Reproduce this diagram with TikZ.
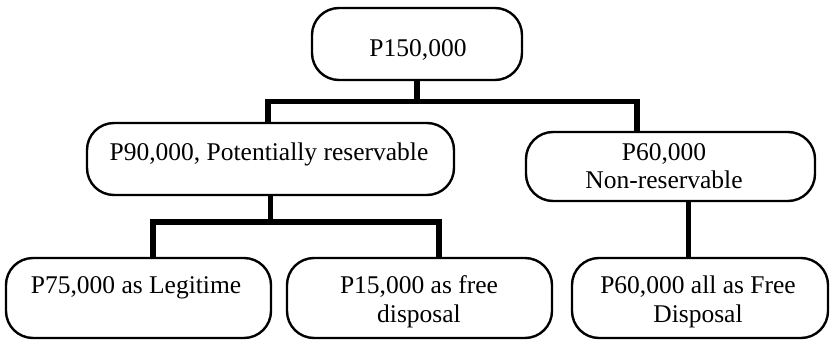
\documentclass[tikz,border=0pt]{standalone}
\usepackage{fontspec}
\setmainfont{Liberation Serif}
\begin{document}
\begin{tikzpicture}[x=1pt, y=-1pt,
  box/.style={draw, line width=2.4pt, rounded corners=27pt, inner sep=0pt},
  lbl/.style={inner sep=0pt, anchor=base, font=\fontsize{25.5}{29}\selectfont},
  conn/.style={draw, line width=5.4pt, line join=miter}]
\useasboundingbox (0,0) rectangle (830,340);

% boxes
\node[box, minimum width=210pt, minimum height=72pt] (top)   at (417,44)    {};
\node[box, minimum width=367pt, minimum height=72pt] (mid)   at (270.5,159) {};
\node[box, minimum width=289pt, minimum height=69pt] (right) at (670.5,166.5) {};
\node[box, minimum width=265pt, minimum height=80pt] (legit) at (138.5,298) {};
\node[box, minimum width=265pt, minimum height=80pt] (free)  at (419.5,298) {};
\node[box, minimum width=256pt, minimum height=80pt] (fd)    at (700,298)   {};

% texts
\node[lbl] (ttop)  at (418,56)    {P150,000};
\node[lbl] (tmid)  at (269,160)   {P90,000, Potentially reservable};
\node[lbl] (tr1)   at (664,160)   {P60,000};
\node[lbl] (tr2)   at (664,188)   {Non-reservable};
\node[lbl] (tl1)   at (136,293)   {P75,000 as Legitime};
\node[lbl] (tf1)   at (419,293)   {P15,000 as free};
\node[lbl] (tf2)   at (419,322)   {disposal};
\node[lbl] (tfd1)  at (698,293)   {P60,000 all as Free};
\node[lbl] (tfd2)  at (698,322)   {Disposal};

% junction points
\coordinate (j1) at (417,101.5);
\coordinate (j2) at (270.5,222);
\coordinate (ja) at ([xshift=-2.5pt]mid.north);
\coordinate (jb) at ([xshift=-33.5pt]right.north);
\coordinate (jc) at ([xshift=14.5pt]legit.north);
\coordinate (jd) at ([xshift=19.5pt]free.north);

% connectors
\draw[conn] (top.south) -- (j1);
\draw[conn] (ja) -- (ja |- j1) -- (jb |- j1) -- (jb);
\draw[conn] (mid.south) -- (j2);
\draw[conn] (jc) -- (jc |- j2) -- (jd |- j2) -- (jd);
\draw[conn] ([xshift=18pt]right.south) -- ([xshift=-11.5pt]fd.north);
\end{tikzpicture}
\end{document}
